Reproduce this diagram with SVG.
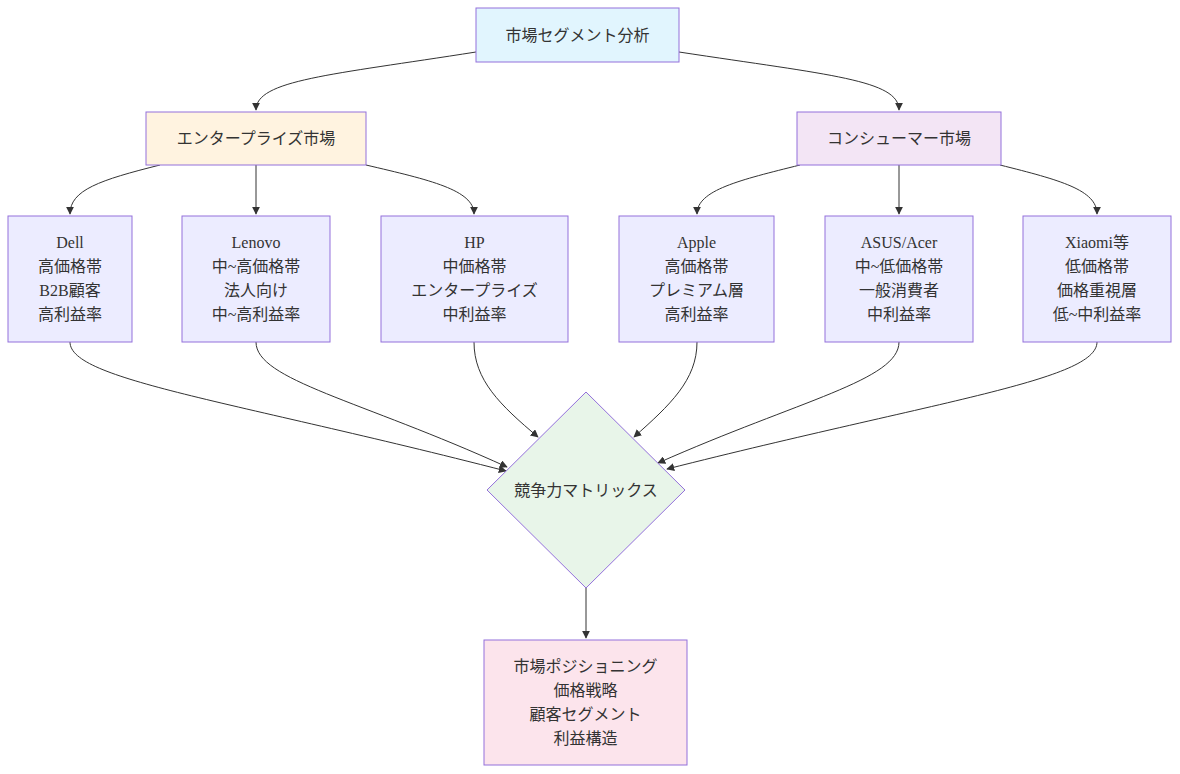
<svg xmlns="http://www.w3.org/2000/svg" width="1180" height="774" viewBox="0 0 1180 774">
<defs>
<marker id="ah" viewBox="0 0 10 10" refX="9" refY="5" markerWidth="8" markerHeight="8" orient="auto"><path d="M0,0L10,5L0,10z" fill="#333"/></marker>
<style>
.n{stroke:#9370db;stroke-width:1}
.t{font-family:"Liberation Serif","Noto Sans CJK JP",serif;font-size:16px;fill:#333;text-anchor:middle;dominant-baseline:central}
.e{fill:none;stroke:#333;stroke-width:1;marker-end:url(#ah)}
</style>
</defs>
<rect width="1180" height="774" fill="#fff"/>
<g id="edges">
<path class="e" d="M476,52 C330,75 256,80 256,110"/>
<path class="e" d="M679,52 C830,75 899,80 899,110"/>
<path class="e" d="M160,165 C100,180 70,190 70,214"/>
<path class="e" d="M256,165 L256,214"/>
<path class="e" d="M366,165 C430,180 474,190 474,214"/>
<path class="e" d="M800,165 C740,180 697,190 697,214"/>
<path class="e" d="M899,165 L899,214"/>
<path class="e" d="M1000,165 C1060,180 1097,190 1097,214"/>
<path class="e" d="M70,342 C70,380 230,400 506,471"/>
<path class="e" d="M256,342 C256,380 360,400 507,467"/>
<path class="e" d="M474,342 C474,380 500,405 538,437"/>
<path class="e" d="M697,342 C697,380 670,405 634,437"/>
<path class="e" d="M899,342 C899,380 800,400 658,463"/>
<path class="e" d="M1097,342 C1097,380 940,400 667,469"/>
<path class="e" d="M586,588 L586,638"/>
</g>
<g id="top"><rect class="n" x="476" y="8" width="203" height="54" fill="#e1f5fe"/><text class="t" x="577.5" y="35">市場セグメント分析</text></g>
<g id="enterprise"><rect class="n" x="146" y="112" width="220" height="53" fill="#fff3e0"/><text class="t" x="256" y="138.5">エンタープライズ市場</text></g>
<g id="consumer"><rect class="n" x="797" y="112" width="204" height="53" fill="#f3e5f5"/><text class="t" x="899" y="138.5">コンシューマー市場</text></g>
<g id="dell"><rect class="n" x="8" y="216" width="124" height="126" fill="#ececff"/><text class="t" x="70" y="242">Dell</text><text class="t" x="70" y="266">高価格帯</text><text class="t" x="70" y="290">B2B顧客</text><text class="t" x="70" y="314">高利益率</text></g>
<g id="lenovo"><rect class="n" x="182" y="216" width="148" height="126" fill="#ececff"/><text class="t" x="256" y="242">Lenovo</text><text class="t" x="256" y="266">中~高価格帯</text><text class="t" x="256" y="290">法人向け</text><text class="t" x="256" y="314">中~高利益率</text></g>
<g id="hp"><rect class="n" x="381" y="216" width="187" height="126" fill="#ececff"/><text class="t" x="474.5" y="242">HP</text><text class="t" x="474.5" y="266">中価格帯</text><text class="t" x="474.5" y="290">エンタープライズ</text><text class="t" x="474.5" y="314">中利益率</text></g>
<g id="apple"><rect class="n" x="619" y="216" width="155" height="126" fill="#ececff"/><text class="t" x="696.5" y="242">Apple</text><text class="t" x="696.5" y="266">高価格帯</text><text class="t" x="696.5" y="290">プレミアム層</text><text class="t" x="696.5" y="314">高利益率</text></g>
<g id="asus"><rect class="n" x="825" y="216" width="148" height="126" fill="#ececff"/><text class="t" x="899" y="242">ASUS/Acer</text><text class="t" x="899" y="266">中~低価格帯</text><text class="t" x="899" y="290">一般消費者</text><text class="t" x="899" y="314">中利益率</text></g>
<g id="xiaomi"><rect class="n" x="1023" y="216" width="148" height="126" fill="#ececff"/><text class="t" x="1097" y="242">Xiaomi等</text><text class="t" x="1097" y="266">低価格帯</text><text class="t" x="1097" y="290">価格重視層</text><text class="t" x="1097" y="314">低~中利益率</text></g>
<g id="matrix"><polygon class="n" points="586,392 685,490 586,588 487,490" fill="#e8f5e9"/><text class="t" x="586" y="490">競争力マトリックス</text></g>
<g id="result"><rect class="n" x="484" y="640" width="203" height="125" fill="#fce4ec"/><text class="t" x="585.5" y="666">市場ポジショニング</text><text class="t" x="585.5" y="690">価格戦略</text><text class="t" x="585.5" y="714">顧客セグメント</text><text class="t" x="585.5" y="738">利益構造</text></g>
</svg>
